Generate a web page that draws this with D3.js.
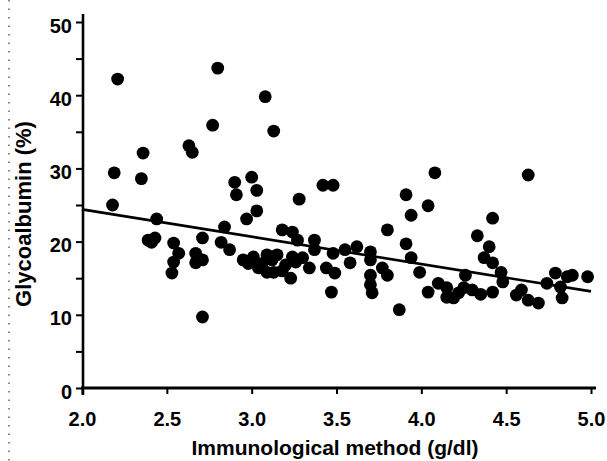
<!DOCTYPE html>
<html>
<head>
<meta charset="utf-8">
<script src="https://cdn.jsdelivr.net/npm/d3@7"></script>
<style>
  html, body { margin: 0; padding: 0; background: #fff; }
  svg text { font-family: "Liberation Sans", Arial, sans-serif; font-weight: bold; fill: #000; }
</style>
</head>
<body>
<div id="canvas" style="width:607px;height:461px"></div>
<script>
// immunological method (g/dl) vs glycoalbumin (%)
const immuno = [
  2.21, 2.80, 3.08, 3.13, 2.77, 2.63, 2.65, 2.36, 2.19, 2.35,
  2.18, 2.44, 2.39, 2.43, 2.54, 2.57, 2.54, 2.53, 2.71, 2.67,
  2.71, 2.67, 2.82, 2.87, 2.84, 2.90, 3.00, 2.91, 3.03, 3.42,
  3.48, 3.28, 2.97, 3.03, 3.18, 3.27, 2.95, 3.01, 3.04, 3.09,
  3.13, 3.15, 3.20, 3.24, 3.30, 3.23, 3.09, 3.37, 3.37, 3.80,
  3.91, 3.48, 3.55, 3.62, 3.70, 3.44, 3.49, 3.58, 3.70, 3.94,
  3.77, 3.80, 3.70, 3.70, 3.71, 3.47, 3.99, 4.04, 4.10, 4.15,
  3.87, 4.08, 4.63, 3.91, 4.04, 3.94, 4.42, 4.33, 4.40, 4.37,
  4.42, 4.47, 4.48, 4.26, 4.15, 4.19, 4.25, 4.30, 4.42, 4.56,
  4.59, 4.63, 4.69, 4.74, 4.79, 4.82, 4.83, 4.86, 4.89, 4.98,
  2.71, 3.24, 3.06, 3.12, 3.18, 3.26, 2.98, 3.34, 4.22, 4.35,
  2.41
];
const glyco = [
  42.2, 43.7, 39.8, 35.1, 35.9, 33.1, 32.2, 32.1, 29.4, 28.6,
  25.0, 23.1, 20.2, 20.5, 19.8, 18.4, 17.2, 15.7, 20.5, 18.4,
  17.5, 17.1, 19.9, 18.9, 22.0, 28.1, 28.8, 26.4, 27.0, 27.7,
  27.7, 25.8, 23.1, 24.2, 21.6, 20.2, 17.5, 17.9, 16.4, 18.2,
  15.8, 18.2, 16.8, 17.9, 17.8, 15.0, 15.8, 20.2, 18.9, 21.6,
  19.7, 18.4, 18.9, 19.3, 18.6, 16.4, 15.7, 17.1, 17.5, 17.8,
  16.4, 15.4, 15.4, 14.1, 13.0, 13.1, 15.8, 13.1, 14.3, 12.4,
  10.7, 29.4, 29.1, 26.4, 24.9, 23.6, 23.2, 20.8, 19.3, 17.8,
  17.1, 15.8, 14.5, 15.4, 13.7, 12.3, 13.7, 13.4, 13.1, 12.7,
  13.4, 12.0, 11.6, 14.3, 15.7, 13.8, 12.3, 15.2, 15.4, 15.2,
  9.7, 21.3, 17.0, 17.5, 16.0, 17.2, 17.0, 16.4, 13.0, 12.8,
  19.9
];
// regression line end points
const fitX = [2.0, 5.0];
const fitY = [24.4, 13.2];

const xTicks = [2.0, 2.5, 3.0, 3.5, 4.0, 4.5, 5.0];
const yTicks = [0, 5, 10, 15, 20, 25, 30, 35, 40, 45, 50];

let container = document.getElementById("canvas")
  , margin = { left: 82, right: 16, top: 22, bottom: 73 }
  , width = 607 - margin.left - margin.right
  , height = 461 - margin.top - margin.bottom
  ;

let svg = d3.select(container).append("svg")
  .attr("width", 607)
  .attr("height", 461);

// faint dotted scan edge on the left
svg.append("line")
  .attr("x1", 9).attr("x2", 9)
  .attr("y1", 0).attr("y2", 461)
  .attr("stroke", "#444")
  .attr("stroke-width", 1.3)
  .attr("stroke-dasharray", "1.5,7");

let g = svg.append("g").attr("transform", "translate(" + margin.left + "," + margin.top + ")");

let x = d3.scaleLinear().domain([2.0, 5.0]).range([0, width]);
let y = d3.scaleLinear().domain([0, 50]).range([height, 0]);

// x axis
let xAxis = g.append("g")
  .attr("transform", "translate(0," + height + ")")
  .call(d3.axisBottom(x).tickValues(xTicks).tickFormat(d3.format(".1f")).tickSize(6).tickSizeOuter(0));
xAxis.select(".domain").remove();
xAxis.selectAll(".tick line").attr("stroke", "#000").attr("stroke-width", 2);
xAxis.selectAll(".tick text")
  .attr("y", 38).attr("dy", null)
  .style("font-size", "20px");

// y axis
let yAxis = g.append("g")
  .call(d3.axisLeft(y).tickValues(yTicks).tickFormat(d => d % 10 === 0 ? d : "").tickSize(6).tickSizeOuter(0));
yAxis.select(".domain").remove();
yAxis.selectAll(".tick line").attr("stroke", "#000").attr("stroke-width", 2);
yAxis.selectAll(".tick text")
  .attr("x", -10).attr("dy", "0.5em")
  .style("font-size", "20px");

// axis lines
g.append("line")
  .attr("x1", x(2.0) - 1).attr("x2", x(5.0) + 5)
  .attr("y1", y(0)).attr("y2", y(0))
  .attr("stroke", "#000").attr("stroke-width", 3.2);
g.append("line")
  .attr("x1", x(2.0) + 1).attr("x2", x(2.0) + 1)
  .attr("y1", y(0) + 7).attr("y2", y(50) - 8)
  .attr("stroke", "#000").attr("stroke-width", 2.6);

// regression line
let fit = fitX.map((d, i) => ({ a: d, b: fitY[i] }));
let valueLine = d3.line()
  .x(function (d) { return x(d.a) })
  .y(function (d) { return y(d.b) });
g.append("path")
  .datum(fit)
  .attr("d", valueLine)
  .attr("fill", "none")
  .attr("stroke", "#000")
  .attr("stroke-width", 2.6);

// points
let pts = immuno.map((d, i) => ({ a: d, b: glyco[i] }));
g.selectAll("circle.pt")
  .data(pts)
  .enter().append("circle")
  .attr("class", "pt")
  .attr("cx", d => x(d.a))
  .attr("cy", d => y(d.b))
  .attr("r", 6.4)
  .attr("fill", "#000");

// titles
svg.append("text")
  .attr("x", 335).attr("y", 455)
  .attr("text-anchor", "middle")
  .style("font-size", "21px")
  .text("Immunological method (g/dl)");
svg.append("text")
  .attr("transform", "translate(31,214) rotate(-90)")
  .attr("text-anchor", "middle")
  .style("font-size", "22px")
  .text("Glycoalbumin (%)");
</script>
</body>
</html>
